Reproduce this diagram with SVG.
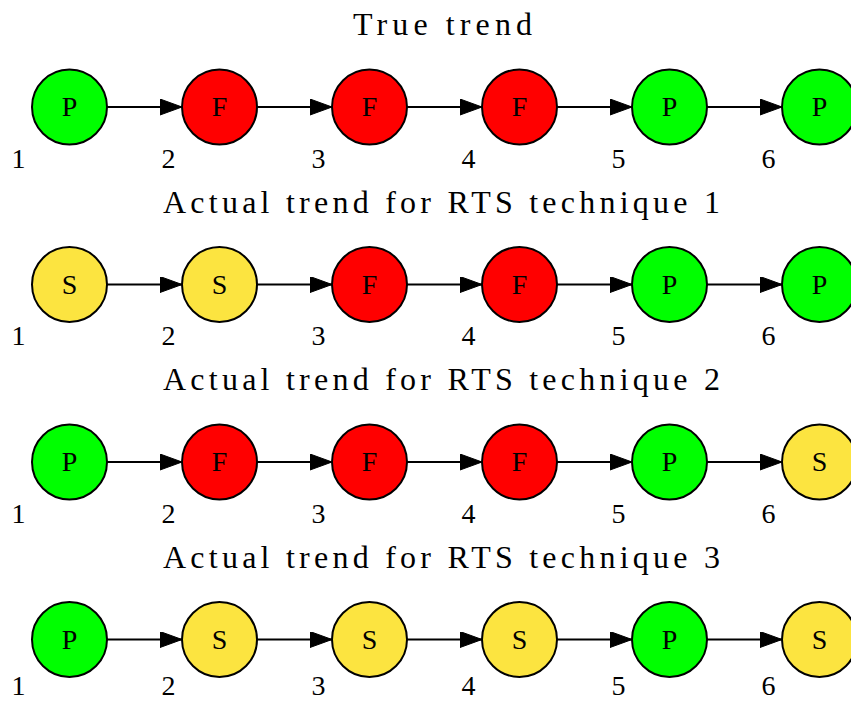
<svg xmlns="http://www.w3.org/2000/svg" width="851" height="702" viewBox="0 0 851 702">
<style>
text{font-family:"Liberation Serif","Times New Roman",serif;fill:#000}
.title{font-size:32px;text-anchor:middle}
.lbl{font-size:28px;text-anchor:middle}
.num{font-size:28px;text-anchor:middle}
circle{stroke:#000;stroke-width:2}
.P{fill:#00ff00}.F{fill:#ff0000}.S{fill:#fce440}
.edge{stroke:#000;stroke-width:2;fill:none;marker-end:url(#ah)}
</style>
<defs>
<marker id="ah" markerUnits="userSpaceOnUse" markerWidth="24" markerHeight="18" refX="22" refY="8" orient="auto" viewBox="0 0 24 18">
<path d="M0,0 L22,8 L0,16 Z" fill="#000" stroke="#000" stroke-width="1"/>
</marker>
</defs>
<rect width="851" height="702" fill="#fff"/>
<g id="titles">
<text class="title" x="442.5" y="35" textLength="179" lengthAdjust="spacing">True trend</text>
<text class="title" x="441.5" y="212.5" textLength="557" lengthAdjust="spacing">Actual trend for RTS technique 1</text>
<text class="title" x="441.5" y="390" textLength="557" lengthAdjust="spacing">Actual trend for RTS technique 2</text>
<text class="title" x="441.5" y="567.5" textLength="557" lengthAdjust="spacing">Actual trend for RTS technique 3</text>
</g>
<g id="connectors">
<path class="edge" d="M107,107H182"/><path class="edge" d="M257,107H332"/><path class="edge" d="M407,107H482"/><path class="edge" d="M557,107H632"/><path class="edge" d="M707,107H782"/>
<path class="edge" d="M107,284.5H182"/><path class="edge" d="M257,284.5H332"/><path class="edge" d="M407,284.5H482"/><path class="edge" d="M557,284.5H632"/><path class="edge" d="M707,284.5H782"/>
<path class="edge" d="M107,462H182"/><path class="edge" d="M257,462H332"/><path class="edge" d="M407,462H482"/><path class="edge" d="M557,462H632"/><path class="edge" d="M707,462H782"/>
<path class="edge" d="M107,639.5H182"/><path class="edge" d="M257,639.5H332"/><path class="edge" d="M407,639.5H482"/><path class="edge" d="M557,639.5H632"/><path class="edge" d="M707,639.5H782"/>
</g>
<g id="row1">
<g id="r1n1"><circle class="P" cx="69.5" cy="107" r="37.5"/><text class="lbl" x="69.5" y="116">P</text><text class="num" x="18.5" y="167.5">1</text></g>
<g id="r1n2"><circle class="F" cx="219.5" cy="107" r="37.5"/><text class="lbl" x="219.5" y="116">F</text><text class="num" x="168.5" y="167.5">2</text></g>
<g id="r1n3"><circle class="F" cx="369.5" cy="107" r="37.5"/><text class="lbl" x="369.5" y="116">F</text><text class="num" x="318.5" y="167.5">3</text></g>
<g id="r1n4"><circle class="F" cx="519.5" cy="107" r="37.5"/><text class="lbl" x="519.5" y="116">F</text><text class="num" x="468.5" y="167.5">4</text></g>
<g id="r1n5"><circle class="P" cx="669.5" cy="107" r="37.5"/><text class="lbl" x="669.5" y="116">P</text><text class="num" x="618.5" y="167.5">5</text></g>
<g id="r1n6"><circle class="P" cx="819.5" cy="107" r="37.5"/><text class="lbl" x="819.5" y="116">P</text><text class="num" x="768.5" y="167.5">6</text></g>
</g>
<g id="row2">
<g id="r2n1"><circle class="S" cx="69.5" cy="284.5" r="37.5"/><text class="lbl" x="69.5" y="293.5">S</text><text class="num" x="18.5" y="345">1</text></g>
<g id="r2n2"><circle class="S" cx="219.5" cy="284.5" r="37.5"/><text class="lbl" x="219.5" y="293.5">S</text><text class="num" x="168.5" y="345">2</text></g>
<g id="r2n3"><circle class="F" cx="369.5" cy="284.5" r="37.5"/><text class="lbl" x="369.5" y="293.5">F</text><text class="num" x="318.5" y="345">3</text></g>
<g id="r2n4"><circle class="F" cx="519.5" cy="284.5" r="37.5"/><text class="lbl" x="519.5" y="293.5">F</text><text class="num" x="468.5" y="345">4</text></g>
<g id="r2n5"><circle class="P" cx="669.5" cy="284.5" r="37.5"/><text class="lbl" x="669.5" y="293.5">P</text><text class="num" x="618.5" y="345">5</text></g>
<g id="r2n6"><circle class="P" cx="819.5" cy="284.5" r="37.5"/><text class="lbl" x="819.5" y="293.5">P</text><text class="num" x="768.5" y="345">6</text></g>
</g>
<g id="row3">
<g id="r3n1"><circle class="P" cx="69.5" cy="462" r="37.5"/><text class="lbl" x="69.5" y="471">P</text><text class="num" x="18.5" y="522.5">1</text></g>
<g id="r3n2"><circle class="F" cx="219.5" cy="462" r="37.5"/><text class="lbl" x="219.5" y="471">F</text><text class="num" x="168.5" y="522.5">2</text></g>
<g id="r3n3"><circle class="F" cx="369.5" cy="462" r="37.5"/><text class="lbl" x="369.5" y="471">F</text><text class="num" x="318.5" y="522.5">3</text></g>
<g id="r3n4"><circle class="F" cx="519.5" cy="462" r="37.5"/><text class="lbl" x="519.5" y="471">F</text><text class="num" x="468.5" y="522.5">4</text></g>
<g id="r3n5"><circle class="P" cx="669.5" cy="462" r="37.5"/><text class="lbl" x="669.5" y="471">P</text><text class="num" x="618.5" y="522.5">5</text></g>
<g id="r3n6"><circle class="S" cx="819.5" cy="462" r="37.5"/><text class="lbl" x="819.5" y="471">S</text><text class="num" x="768.5" y="522.5">6</text></g>
</g>
<g id="row4">
<g id="r4n1"><circle class="P" cx="69.5" cy="639.5" r="37.5"/><text class="lbl" x="69.5" y="648.5">P</text><text class="num" x="18.5" y="695">1</text></g>
<g id="r4n2"><circle class="S" cx="219.5" cy="639.5" r="37.5"/><text class="lbl" x="219.5" y="648.5">S</text><text class="num" x="168.5" y="695">2</text></g>
<g id="r4n3"><circle class="S" cx="369.5" cy="639.5" r="37.5"/><text class="lbl" x="369.5" y="648.5">S</text><text class="num" x="318.5" y="695">3</text></g>
<g id="r4n4"><circle class="S" cx="519.5" cy="639.5" r="37.5"/><text class="lbl" x="519.5" y="648.5">S</text><text class="num" x="468.5" y="695">4</text></g>
<g id="r4n5"><circle class="P" cx="669.5" cy="639.5" r="37.5"/><text class="lbl" x="669.5" y="648.5">P</text><text class="num" x="618.5" y="695">5</text></g>
<g id="r4n6"><circle class="S" cx="819.5" cy="639.5" r="37.5"/><text class="lbl" x="819.5" y="648.5">S</text><text class="num" x="768.5" y="695">6</text></g>
</g>
</svg>
